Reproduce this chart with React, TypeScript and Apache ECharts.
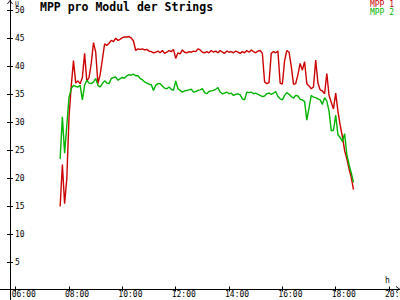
import React, { useEffect, useRef } from "react";
import * as echarts from "echarts";

const chartTitle = "MPP pro Modul der Strings";
const seriesNames = ["MPP 1", "MPP 2"];
const startMinutes = 7 * 60 + 40;
const stepMinutes = 5;

const mpp1 = [
  15.0, 22.5, 15.5, 20.0, 31.0, 36.5, 41.0, 37.0, 37.4, 36.9,
  38.0, 42.3, 37.3, 38.0, 40.5, 44.2, 42.5, 36.9, 38.5, 41.2,
  44.0, 43.7, 44.1, 44.6, 44.4, 45.0, 44.6, 44.8, 45.1, 45.2,
  45.2, 45.3, 45.0, 44.5, 42.8, 43.1, 43.0, 43.1, 42.9, 43.0,
  42.7, 42.6, 42.4, 42.5, 42.7, 42.4, 42.8, 42.3, 42.5, 42.8,
  42.6, 43.0, 41.4, 42.4, 42.2, 42.9, 42.5, 42.4, 42.6, 42.5,
  42.7, 42.6, 43.1, 42.9, 42.5, 42.4, 42.6, 42.4, 42.8, 42.5,
  42.7, 42.4, 42.8, 42.5, 42.3, 42.7, 42.5, 42.6, 42.4, 42.7,
  42.5, 42.3, 42.6, 42.4, 42.8, 42.5, 42.9, 42.6, 42.4, 42.7,
  42.8, 42.3, 37.2, 36.9, 37.1, 42.3, 42.6, 42.4, 42.7, 37.0,
  36.8, 41.0, 42.8, 42.5, 40.0, 36.8, 36.9, 38.5, 40.5, 39.3,
  40.8, 36.9, 36.5, 36.0, 36.3, 41.1, 37.0, 35.8, 35.6, 35.1,
  38.7, 34.8, 33.6, 32.4, 35.2, 32.0, 29.5, 27.5, 25.0, 23.5,
  21.7, 20.2, 18.0,
];

const mpp2 = [
  23.5, 31.0, 24.5, 29.5, 34.5, 36.0, 36.6, 36.4, 36.3, 36.6,
  34.0, 36.6, 37.5, 37.0, 36.9, 37.2, 37.8, 36.6, 36.3, 36.9,
  37.4, 37.0, 36.9, 37.8, 38.0, 38.1, 37.5, 37.8, 38.0, 37.9,
  38.3, 38.5, 38.4, 38.6, 38.3, 38.3, 37.8, 37.6, 37.2, 37.0,
  36.8, 36.7, 35.7, 36.6, 36.9, 36.9, 36.5, 36.1, 36.0, 36.3,
  35.9, 35.7, 37.4, 36.0, 35.7, 35.4, 35.6, 35.7, 35.8, 35.9,
  35.4, 35.5, 35.7, 35.8, 36.0, 35.3, 35.1, 35.5, 35.6, 35.7,
  35.9, 36.2, 35.4, 35.1, 35.2, 35.4, 35.1, 35.2, 34.8, 35.0,
  35.1, 34.9, 34.2, 34.0, 35.4, 35.3, 35.4, 35.1, 35.2, 35.0,
  34.8, 34.6, 34.7, 35.1, 35.2, 35.0, 35.2, 35.5, 34.6, 34.2,
  34.0, 34.8, 35.3, 35.0, 34.6, 34.3, 34.8, 34.7, 34.1, 34.0,
  33.7, 30.4, 32.6, 34.8, 34.5, 34.4, 34.2, 34.0, 33.2, 34.4,
  33.8, 32.0, 28.5, 28.6, 31.3, 27.8, 27.3, 26.6, 28.0, 24.3,
  22.5, 21.0, 19.3,
];

const xTickHours = [6, 8, 10, 12, 14, 16, 18, 20];
const yTickValues = [5, 10, 15, 20, 25, 30, 35, 40, 45, 50];

const RED = "#cc0000";
const GREEN = "#00b400";
const FONT = "DejaVu Sans Mono";
const CHEVRON = "path://M0,4 L3,0 L6,4 L5.1,4 L3,1.2 L0.9,4 Z";

function toPairs(values: number[]) {
  return values.map((v, i) => [(startMinutes + i * stepMinutes) / 60, v]);
}

function hourLabel(v: number) {
  const h = Math.round(v);
  return (h < 10 ? "0" + h : String(h)) + ":00";
}

export default function App() {
  const ref = useRef<HTMLDivElement>(null);

  useEffect(() => {
    if (!ref.current) return;
    const chart = echarts.init(ref.current, undefined, { renderer: "svg" });
    const xMin = 5.411;
    const xMax = 20.411;
    const yMin = -1.64;
    const yMax = 51.8;

    const xBase = {
      type: "value" as const,
      min: xMin,
      max: xMax,
      position: "bottom" as const,
      offset: -11,
      splitLine: { show: false },
    };
    const yBase = {
      type: "value" as const,
      min: yMin,
      max: yMax,
      position: "left" as const,
      offset: -10,
      splitLine: { show: false },
    };

    chart.setOption({
      animation: false,
      backgroundColor: "#ffffff",
      title: {
        text: chartTitle,
        left: 40,
        top: 1,
        padding: 0,
        textStyle: {
          fontFamily: FONT,
          fontWeight: "bold",
          fontSize: 11.5,
          color: "#000000",
        },
      },
      legend: {
        orient: "vertical",
        right: 6,
        top: 0,
        padding: 0,
        itemGap: 0,
        itemWidth: 0,
        itemHeight: 8,
        icon: "none",
        textStyle: { fontFamily: FONT, fontSize: 8, lineHeight: 8 },
        data: [
          { name: seriesNames[0], textStyle: { color: RED } },
          { name: seriesNames[1], textStyle: { color: GREEN } },
        ],
      },
      grid: {
        left: 0,
        right: 0,
        top: 0,
        bottom: 0,
        containLabel: false,
        outerBoundsMode: "none",
      },
      xAxis: [
        {
          ...xBase,
          axisLine: {
            show: true,
            onZero: false,
            lineStyle: { color: "#000000", width: 1 },
            symbol: ["none", CHEVRON],
            symbolSize: [6, 4],
            symbolOffset: [0, -2],
          },
          axisTick: {
            show: true,
            length: 2.5,
            customValues: xTickHours,
            lineStyle: { color: "#000000" },
          },
          axisLabel: {
            show: true,
            customValues: xTickHours,
            formatter: hourLabel,
            margin: 1,
            align: "left",
            padding: [0, 0, 0, -4],
            fontFamily: FONT,
            fontSize: 8,
            color: "#000000",
          },
        },
        {
          ...xBase,
          axisLine: { show: false, onZero: false },
          axisTick: {
            show: true,
            inside: true,
            length: 2.5,
            customValues: xTickHours,
            lineStyle: { color: "#000000" },
          },
          axisLabel: { show: false },
        },
      ],
      yAxis: [
        {
          ...yBase,
          axisLine: {
            show: true,
            onZero: false,
            lineStyle: { color: "#000000", width: 1 },
            symbol: ["none", CHEVRON],
            symbolSize: [6, 4],
            symbolOffset: [0, -2],
          },
          axisTick: {
            show: true,
            length: 3,
            customValues: yTickValues,
            lineStyle: { color: "#000000" },
          },
          axisLabel: {
            show: true,
            inside: true,
            customValues: yTickValues,
            margin: 5,
            padding: [1, 0, 0, 0],
            fontFamily: FONT,
            fontSize: 8,
            color: "#000000",
          },
        },
        {
          ...yBase,
          axisLine: { show: false, onZero: false },
          axisTick: {
            show: true,
            inside: true,
            length: 3,
            customValues: yTickValues,
            lineStyle: { color: "#000000" },
          },
          axisLabel: { show: false },
        },
      ],
      graphic: [
        {
          type: "text",
          left: 15,
          top: 0,
          style: { text: "U", fontFamily: FONT, fontSize: 6.5, fill: "#000000" },
        },
        {
          type: "text",
          left: 385,
          top: 276,
          style: { text: "h", fontFamily: FONT, fontSize: 8, fill: "#000000" },
        },
      ],
      series: [
        {
          name: seriesNames[0],
          type: "line",
          xAxisIndex: 0,
          yAxisIndex: 0,
          data: toPairs(mpp1),
          showSymbol: false,
          symbol: "none",
          lineStyle: { color: RED, width: 1.4 },
          itemStyle: { color: RED },
        },
        {
          name: seriesNames[1],
          type: "line",
          xAxisIndex: 0,
          yAxisIndex: 0,
          data: toPairs(mpp2),
          showSymbol: false,
          symbol: "none",
          lineStyle: { color: GREEN, width: 1.4 },
          itemStyle: { color: GREEN },
        },
      ],
    });
    return () => chart.dispose();
  }, []);

  return (
    <div
      ref={ref}
      style={{ position: "fixed", left: 0, top: 0, width: 400, height: 300 }}
    />
  );
}
